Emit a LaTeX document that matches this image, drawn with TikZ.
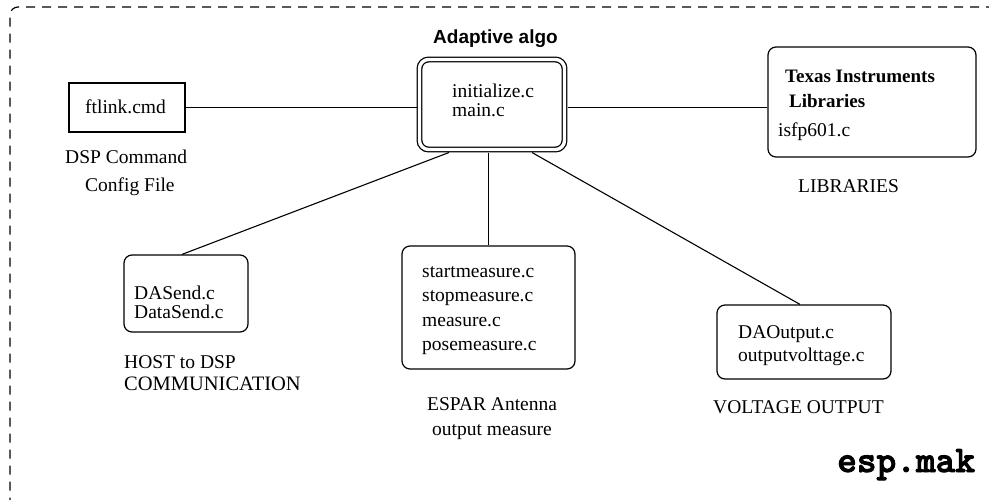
\documentclass[tikz,border=0pt]{standalone}
\usepackage{fontspec}
\setmainfont{Liberation Serif}
\newfontfamily\headsans{Liberation Sans}
\newfontfamily\makfont{lmmonolt10-bold.otf}[FakeBold=2.4]
\usetikzlibrary{calc}

\tikzset{
  filebox/.style={draw, line width=1.2pt, rounded corners=8pt, inner sep=0pt},
  plainbox/.style={draw, line width=1.2pt, inner sep=0pt},
  mainbox/.style={draw, double, double distance=3.4pt, line width=1.25pt,
    rounded corners=9pt, inner sep=0pt, outer sep=3pt},
  link/.style={line width=1.1pt},
  txt/.style={anchor=base west, inner sep=0pt, font=\fontsize{19.5}{25}\selectfont},
  frame/.style={dashed, dash pattern=on 9pt off 7pt, line width=1.2pt}
}

\begin{document}
\begin{tikzpicture}[x=1pt,y=-1pt]
\useasboundingbox (0,0) rectangle (989,499);

% outer dashed frame of the make project
\draw[frame, rounded corners=8pt] (995,7) -- (10,7) -- (10,505);

% boxes
\node[plainbox, minimum width=116pt, minimum height=49pt] (ftlink) at (127,107.5) {};
\node[mainbox, minimum width=145pt, minimum height=90pt] (main) at (492,104.5) {};
\node[filebox, minimum width=208pt, minimum height=110pt] (ti) at (872,102) {};
\node[filebox, minimum width=124pt, minimum height=77pt] (das) at (186,293.5) {};
\node[filebox, minimum width=173pt, minimum height=123pt] (espar) at (488.5,307.5) {};
\node[filebox, minimum width=174pt, minimum height=74pt] (volt) at (804,342) {};

% connectors
\draw[link] (ftlink.east) -- (ftlink.east -| main.west);
\draw[link] (main.east |- ftlink.east) -- (ti.west |- ftlink.east);
\draw[link] ($(main.south)+(-43,0)$) -- ($(das.north)+(-4,0)$);
\draw[link] (main.south -| espar.north) -- (espar.north);
\draw[link] ($(main.south)+(40,0)$) -- ($(volt.north)+(-4,0)$);

% box contents
\node[txt] (tftlink) at (85,113) {ftlink.cmd};
\node[anchor=base west, inner sep=0pt, font=\headsans\bfseries\fontsize{19}{22}\selectfont] (talgo) at (433,43) {Adaptive algo};
\node[txt] (tinit) at (452,97) {initialize.c};
\node[txt] (tmainc) at (452,116) {main.c};
\node[txt, font=\bfseries\fontsize{19}{25}\selectfont] (tti1) at (785,82) {Texas Instruments};
\node[txt, font=\bfseries\fontsize{19}{25}\selectfont] (tti2) at (789,107) {Libraries};
\node[txt] (tisfp) at (778,136) {isfp601.c};
\node[txt] (tdas1) at (134,299) {DASend.c};
\node[txt] (tdas2) at (134,318) {DataSend.c};
\node[txt] (tesp1) at (422,277) {startmeasure.c};
\node[txt] (tesp2) at (422,301) {stopmeasure.c};
\node[txt] (tesp3) at (422,326) {measure.c};
\node[txt] (tesp4) at (422,350) {posemeasure.c};
\node[txt] (tvolt1) at (738,338) {DAOutput.c};
\node[txt] (tvolt2) at (738,361) {outputvolttage.c};

% captions
\node[txt] (cdsp1) at (65,163) {DSP Command};
\node[txt] (cdsp2) at (85,191) {Config File};
\node[txt] (clib) at (798,192) {LIBRARIES};
\node[txt] (chost1) at (124,368) {HOST to DSP};
\node[txt, font=\fontsize{20.5}{25}\selectfont] (chost2) at (124,390) {COMMUNICATION};
\node[txt] (cesp1) at (427,410) {ESPAR Antenna};
\node[txt] (cesp2) at (432,435) {output measure};
\node[txt] (cvolt) at (713,413) {VOLTAGE OUTPUT};
\node[anchor=base west, inner sep=0pt, font=\makfont\fontsize{37.5}{40}\selectfont] (mak) at (837,472) {esp.mak};
\end{tikzpicture}
\end{document}
